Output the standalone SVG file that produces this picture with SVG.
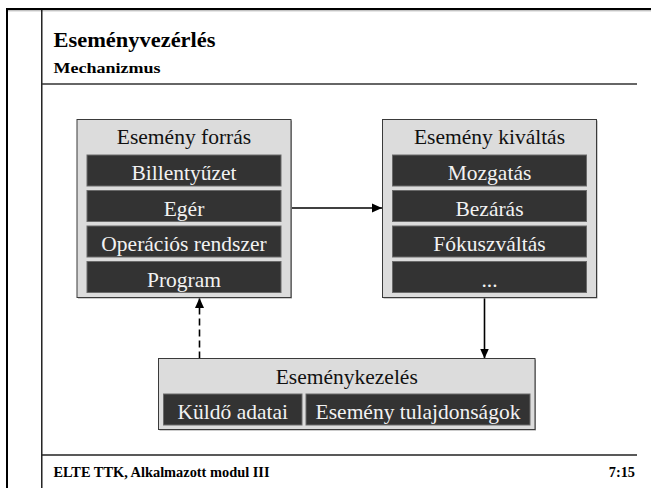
<svg xmlns="http://www.w3.org/2000/svg" width="651" height="488" viewBox="0 0 651 488">
<defs>
<style>
.box{fill:#dcdcdc;stroke:#3a3a3a;stroke-width:1}
.shadow{fill:#9a9a9a}
.bar{fill:#333;stroke:#6a6a6a;stroke-width:1}
.hdr{font-family:"Liberation Serif","Times New Roman",serif;font-size:21.5px;fill:#111;text-anchor:middle}
.lbl{font-family:"Liberation Serif","Times New Roman",serif;font-size:21.5px;fill:#f2f2f2;text-anchor:middle}
.ttl{font-family:"Liberation Serif","Times New Roman",serif;font-weight:bold;fill:#000}
.conn{stroke:#000;stroke-width:1.6;fill:none}
</style>
<marker id="ah" viewBox="0 0 10 10" refX="10" refY="5" markerWidth="10" markerHeight="10" markerUnits="userSpaceOnUse" orient="auto">
<path d="M0,0.5 L10,5 L0,9.5 Z" fill="#000"/>
</marker>
</defs>
<rect width="651" height="488" fill="#fff"/>
<g id="frame">
<line x1="6" y1="9" x2="651" y2="9" stroke="#000" stroke-width="2.2"/>
<line x1="6" y1="10.8" x2="651" y2="10.8" stroke="#aaa" stroke-width="1"/>
<line x1="7" y1="8" x2="7" y2="488" stroke="#000" stroke-width="2"/>
<line x1="41.8" y1="9" x2="41.8" y2="488" stroke="#000" stroke-width="1.3"/>
<line x1="41.8" y1="84" x2="637" y2="84" stroke="#333" stroke-width="1.6"/>
<line x1="41.8" y1="455" x2="637" y2="455" stroke="#222" stroke-width="1.3"/>
<text class="ttl" x="53.5" y="47" font-size="22" textLength="162" lengthAdjust="spacingAndGlyphs">Eseményvezérlés</text>
<text class="ttl" x="53.5" y="72.5" font-size="15" textLength="107" lengthAdjust="spacingAndGlyphs">Mechanizmus</text>
<text class="ttl" x="53.5" y="477" font-size="14.3" textLength="216" lengthAdjust="spacingAndGlyphs">ELTE TTK, Alkalmazott modul III</text>
<text class="ttl" x="635" y="477" font-size="14.3" text-anchor="end">7:15</text>
</g>
<g id="connectors">
<line class="conn" x1="291" y1="208" x2="382" y2="208" marker-end="url(#ah)"/>
<line class="conn" x1="484.5" y1="297.5" x2="484.5" y2="358.5" marker-end="url(#ah)"/>
<line class="conn" x1="199.5" y1="358.5" x2="199.5" y2="298" stroke-width="2" stroke-dasharray="7,4" marker-end="url(#ah)"/>
</g>
<g id="esemeny-forras">
<rect class="shadow" x="78" y="120.5" width="214" height="178"/>
<rect class="box" x="77" y="119.5" width="214" height="178"/>
<text class="hdr" x="184" y="144">Esemény forrás</text>
<rect class="bar" x="87" y="155" width="194" height="31"/>
<text class="lbl" x="184" y="180">Billentyűzet</text>
<rect class="bar" x="87" y="190.5" width="194" height="31"/>
<text class="lbl" x="184" y="215.5">Egér</text>
<rect class="bar" x="87" y="226" width="194" height="31"/>
<text class="lbl" x="184" y="251">Operációs rendszer</text>
<rect class="bar" x="87" y="261.5" width="194" height="31"/>
<text class="lbl" x="184" y="286.5">Program</text>
</g>
<g id="esemeny-kivaltas">
<rect class="shadow" x="383.5" y="120.5" width="214" height="178"/>
<rect class="box" x="382.5" y="119.5" width="214" height="178"/>
<text class="hdr" x="489.5" y="144">Esemény kiváltás</text>
<rect class="bar" x="392.5" y="155" width="194" height="31"/>
<text class="lbl" x="489.5" y="180">Mozgatás</text>
<rect class="bar" x="392.5" y="190.5" width="194" height="31"/>
<text class="lbl" x="489.5" y="215.5">Bezárás</text>
<rect class="bar" x="392.5" y="226" width="194" height="31"/>
<text class="lbl" x="489.5" y="251">Fókuszváltás</text>
<rect class="bar" x="392.5" y="261.5" width="194" height="31"/>
<text class="lbl" x="489.5" y="286.5">...</text>
</g>
<g id="esemenykezeles">
<rect class="shadow" x="159.5" y="359.5" width="376.5" height="71"/>
<rect class="box" x="158.5" y="358.5" width="376.5" height="71"/>
<text class="hdr" x="346.75" y="383.5">Eseménykezelés</text>
<rect class="bar" x="163.5" y="394" width="138.5" height="31"/>
<text class="lbl" x="232.75" y="418.5">Küldő adatai</text>
<rect class="bar" x="306" y="394" width="224" height="31"/>
<text class="lbl" x="418" y="418.5">Esemény tulajdonságok</text>
</g>
</svg>
